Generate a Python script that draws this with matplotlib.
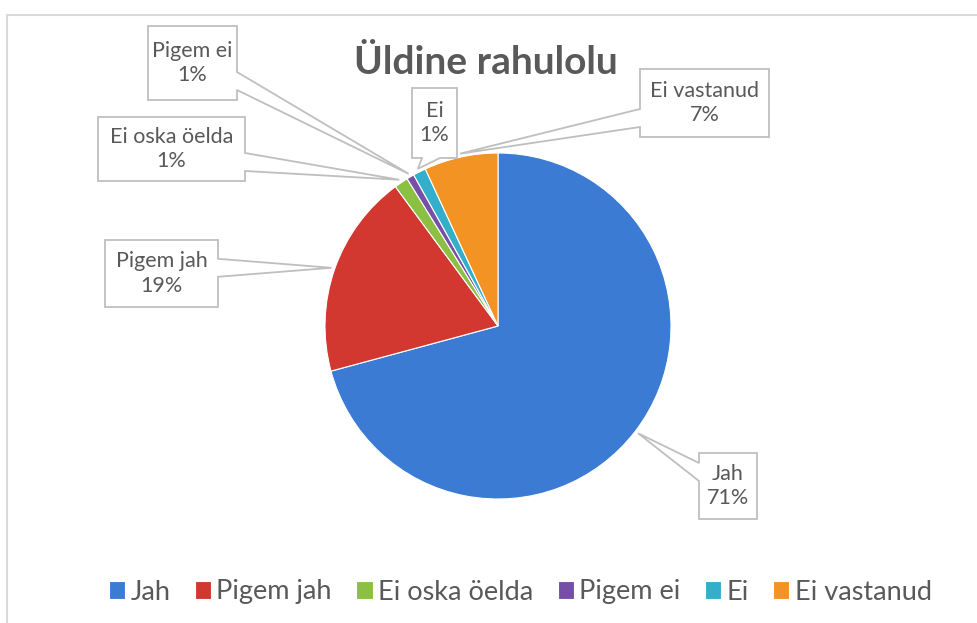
import matplotlib
matplotlib.use("Agg")
import matplotlib.pyplot as plt
from matplotlib.patches import Polygon, Rectangle
import numpy as np

plt.rcParams.update({
    "font.family": ["Lato", "DejaVu Sans"],
    "text.color": "#595959",
})

# ── data ──────────────────────────────────────────────
labels = ["Jah", "Pigem jah", "Ei oska öelda", "Pigem ei", "Ei", "Ei vastanud"]
shares = [70.8, 19.1, 1.3, 0.7, 1.2, 6.9]
colors = ["#3C7BD3", "#D2382F", "#8CC043", "#7550A6", "#33AFCB", "#F29323"]

# callout boxes in pixel coords (left, top, right, bottom), y from top
boxes = {
    "Jah": (699, 453, 757, 519),
    "Pigem jah": (105, 240, 218, 307),
    "Ei oska öelda": (98, 117, 245, 181),
    "Pigem ei": (148, 26, 237, 100),
    "Ei": (412, 88, 457, 158),
    "Ei vastanud": (640, 69, 769, 137),
}

W, H = 978, 623
CX, CY, R = 498, 326, 173

fig = plt.figure(figsize=(W / 100, H / 100), dpi=100)
ax = fig.add_axes([0, 0, 1, 1])

wedges, _ = ax.pie(shares, colors=colors, startangle=90, counterclock=False,
                   center=(CX, H - CY), radius=R,
                   wedgeprops={"linewidth": 0.8, "edgecolor": "white"})
ax.set_xlim(0, W)
ax.set_ylim(0, H)
ax.set_aspect("equal")
ax.axis("off")

# chart frame
ax.add_patch(Rectangle((7, -5), W, H - 15 + 5, fill=False, edgecolor="#D9D9D9", lw=1.5))

ax.text(486, H - 62, "Üldine rahulolu", ha="center", va="center",
        fontsize=28, fontweight="bold", color="#595959")


def callout(box, anchor, text):
    l, t, r, b = box
    yt, yb = H - t, H - b
    ax_, ay = anchor
    half, m = 9, 10
    if ax_ > r or ax_ < l:
        x = r if ax_ > r else l
        c = np.clip(ay, yb + m + half, yt - m - half)
        p1, p2 = (x, c + half), (x, c - half)
        if x == r:
            pts = [(l, yt), (r, yt), p1, anchor, p2, (r, yb), (l, yb)]
        else:
            pts = [(l, yt), (r, yt), (r, yb), (l, yb), p2, anchor, p1]
    else:
        c = np.clip(ax_, l + m + half, r - m - half)
        if ay < yb:
            pts = [(l, yt), (r, yt), (r, yb), (c + half, yb), anchor, (c - half, yb), (l, yb)]
        else:
            pts = [(l, yt), (c - half, yt), anchor, (c + half, yt), (r, yt), (r, yb), (l, yb)]
    ax.add_patch(Polygon(pts, closed=True, facecolor="white", edgecolor="#BFBFBF",
                         lw=1.3, zorder=5))
    ax.text((l + r) / 2, (yt + yb) / 2, text, ha="center", va="center",
            fontsize=15.5, color="#595959", linespacing=1.3, zorder=6)


cum = 0.0
total = sum(shares)
for lab, val in zip(labels, shares):
    mid = np.deg2rad(90 - 360 * (cum + val / 2) / total)
    cum += val
    anchor = (CX + R * 1.02 * np.cos(mid), H - CY + R * 1.02 * np.sin(mid))
    callout(boxes[lab], anchor, f"{lab}\n{round(val / total * 100):.0f}%")

fig.legend(wedges, labels, loc="center", bbox_to_anchor=(0.532, 1 - 592 / H), ncol=6,
           frameon=False, fontsize=19.5, handlelength=0.6, handleheight=0.6,
           handletextpad=0.2, columnspacing=0.9, labelcolor="#595959")

fig.savefig("out.png", dpi=100)
